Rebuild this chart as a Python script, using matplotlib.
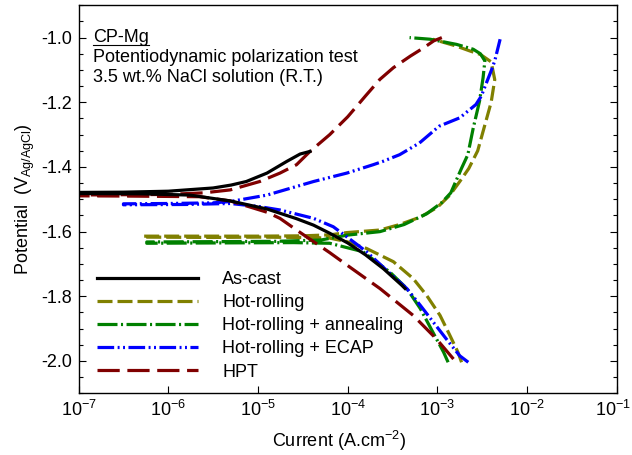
import numpy as np
import matplotlib
matplotlib.use('Agg')
import matplotlib.pyplot as plt
from matplotlib import rcParams
from matplotlib.ticker import FixedLocator, MultipleLocator, NullLocator
from matplotlib.transforms import ScaledTranslation

rcParams['font.family'] = ['Liberation Sans', 'DejaVu Sans']
rcParams['mathtext.default'] = 'regular'
rcParams['axes.unicode_minus'] = False
rcParams['lines.scale_dashes'] = False
rcParams['xtick.direction'] = 'in'
rcParams['ytick.direction'] = 'in'

# log10(current density, A/cm2) and potential (V vs Ag/AgCl)
cast_logi = [-3.36, -3.40, -3.60, -3.80, -4.00, -4.20, -4.38, -4.57, -4.90, -5.31, -5.76, -6.30, -7.20,
             -7.20, -6.50, -6.00, -5.50, -5.30, -5.13, -4.90, -4.68, -4.53, -4.42]
cast_v = [-1.776, -1.765, -1.715, -1.672, -1.635, -1.605, -1.580, -1.560, -1.530, -1.505, -1.487, -1.483, -1.482,
          -1.479, -1.478, -1.475, -1.465, -1.456, -1.445, -1.419, -1.383, -1.360, -1.352]

hr_logi = [-2.73, -2.77, -2.86, -2.97, -3.12, -3.27, -3.49, -3.79, -4.01, -4.20, -4.53, -5.00, -5.50, -6.28,
           -6.28, -5.50, -5.00, -4.50, -4.20, -4.01, -3.64, -3.42, -3.19, -3.00, -2.86, -2.75, -2.65,
           -2.55, -2.47, -2.40, -2.36, -2.40, -2.52, -2.64, -2.79, -3.05]
hr_v = [-2.004, -1.973, -1.921, -1.859, -1.797, -1.745, -1.693, -1.652, -1.631, -1.620, -1.618, -1.617, -1.618, -1.617,
        -1.614, -1.614, -1.614, -1.613, -1.610, -1.603, -1.595, -1.578, -1.555, -1.525, -1.487, -1.445, -1.405,
        -1.350, -1.270, -1.200, -1.130, -1.075, -1.052, -1.041, -1.026, -1.005]

hra_logi = [-2.88, -2.93, -3.05, -3.19, -3.34, -3.53, -3.83, -4.20, -4.60, -5.50, -6.24,
            -6.24, -5.50, -4.80, -4.30, -4.01, -3.64, -3.37, -3.12, -2.95, -2.85, -2.73, -2.66,
            -2.60, -2.53, -2.49, -2.47, -2.52, -2.60, -2.785, -3.08, -3.31]
hra_v = [-2.004, -1.973, -1.911, -1.838, -1.776, -1.725, -1.662, -1.636, -1.634, -1.635, -1.636,
         -1.632, -1.631, -1.630, -1.626, -1.611, -1.600, -1.578, -1.545, -1.510, -1.480, -1.404, -1.362,
         -1.280, -1.197, -1.124, -1.072, -1.050, -1.036, -1.021, -1.005, -1.000]

ecap_logi = [-2.655, -2.75, -2.90, -3.045, -3.19, -3.34, -3.565, -3.79, -4.01, -4.16, -4.38, -4.755, -5.00, -5.31,
             -5.80, -6.50, -6.50, -6.00, -5.50, -5.31, -4.90, -4.38, -4.01, -3.715, -3.61, -3.42, -3.20,
             -2.98, -2.75, -2.57, -2.51, -2.46, -2.40, -2.36, -2.30]
ecap_v = [-2.004, -1.984, -1.932, -1.880, -1.828, -1.776, -1.720, -1.662, -1.616, -1.585, -1.559, -1.533, -1.522, -1.513,
          -1.516, -1.517, -1.514, -1.513, -1.511, -1.507, -1.487, -1.445, -1.419, -1.393, -1.383, -1.362, -1.326,
          -1.274, -1.248, -1.207, -1.181, -1.145, -1.103, -1.072, -1.005]

hpt_logi = [-2.82, -3.01, -3.27, -3.64, -4.01, -4.20, -4.38, -4.57, -4.755, -4.90, -5.31, -5.65, -6.50, -7.20,
            -7.20, -6.00, -5.60, -5.31, -4.98, -4.755, -4.57, -4.42, -4.20, -4.00, -3.80, -3.64, -3.49,
            -3.30, -3.15, -3.04, -2.95]
hpt_v = [-1.994, -1.932, -1.859, -1.776, -1.703, -1.665, -1.631, -1.595, -1.559, -1.540, -1.505, -1.492, -1.490, -1.489,
         -1.487, -1.485, -1.480, -1.471, -1.445, -1.419, -1.393, -1.352, -1.300, -1.245, -1.180, -1.129, -1.093,
         -1.057, -1.031, -1.010, -1.000]

labels = ['As-cast', 'Hot-rolling', 'Hot-rolling + annealing', 'Hot-rolling + ECAP', 'HPT']
colors = ['black', '#808000', '#008000', '#0000ff', '#800000']
dashes = [None, (10.8, 3.6), (14.4, 2.5, 1.5, 2.5), (12, 2.5, 1.4, 2.5, 1.4, 2.5), (16, 5.5)]
curves = [(cast_logi, cast_v), (hr_logi, hr_v), (hra_logi, hra_v), (ecap_logi, ecap_v), (hpt_logi, hpt_v)]

fig = plt.figure(figsize=(6.32, 4.55), dpi=100)
ax = fig.add_axes([0.1244, 0.1356, 0.8514, 0.8528])

for (li, v), lab, c, d in zip(curves, labels, colors, dashes):
    i = 10 ** np.array(li)
    if d is None:
        ax.plot(i, v, color=c, lw=2.3, label=lab, zorder=5)
    else:
        ax.plot(i, v, color=c, lw=2.3, dashes=d, label=lab)

ax.set_xscale('log')
ax.set_xlim(1e-7, 1e-1)
ax.set_ylim(-2.1, -0.9)
xt = [1e-7, 1e-6, 1e-5, 1e-4, 1e-3, 1e-2, 1e-1]
ax.xaxis.set_major_locator(FixedLocator(xt))
ax.xaxis.set_minor_locator(NullLocator())
ax.set_xticklabels(['$10^{%d}$' % k for k in range(-7, 0)])
yt = [-2.0, -1.8, -1.6, -1.4, -1.2, -1.0]
ax.yaxis.set_major_locator(FixedLocator(yt))
ax.yaxis.set_minor_locator(MultipleLocator(0.05))
ax.set_yticklabels(['%.1f' % t for t in yt])

ax.tick_params(axis='both', which='major', length=4.8, width=0.8, labelsize=13)
ax.tick_params(axis='both', which='minor', length=3.0, width=0.8)
ax.tick_params(axis='y', which='both', right=True, pad=5)
ax.tick_params(axis='x', which='both', top=False, pad=5)
for s in ax.spines.values():
    s.set_linewidth(1.0)

# keep the last tick label inside the figure
last = ax.get_xticklabels()[-1]
last.set_transform(last.get_transform() + ScaledTranslation(-4 / 100, 0, fig.dpi_scale_trans))

ax.set_xlabel('Current (A.cm$^{-2}$)', fontsize=13)
ax.set_ylabel('Potential  (V$_{Ag/AgCl}$)', fontsize=13)
ax.xaxis.set_label_coords(0.484, -0.092)
ax.yaxis.set_label_coords(-0.078, 0.5)

t = ax.text(0.0268, 0.906, 'CP-Mg', transform=ax.transAxes, fontsize=13, va='baseline')
ax.text(0.0268, 0.8546, 'Potentiodynamic polarization test', transform=ax.transAxes, fontsize=13, va='baseline')
ax.text(0.0268, 0.803, '3.5 wt.% NaCl solution (R.T.)', transform=ax.transAxes, fontsize=13, va='baseline')

ax.legend(loc='upper left', bbox_to_anchor=(0.0342, 0.315), frameon=False, borderpad=0,
          borderaxespad=0, handlelength=5.6, handletextpad=1.33, labelspacing=0.34, fontsize=13)

# underline the sample name
fig.canvas.draw()
bb = t.get_window_extent().transformed(ax.transAxes.inverted())
ax.plot([bb.x0, bb.x1], [0.8977, 0.8977], transform=ax.transAxes, color='black', lw=0.8)

fig.savefig('out.png', dpi=100)
